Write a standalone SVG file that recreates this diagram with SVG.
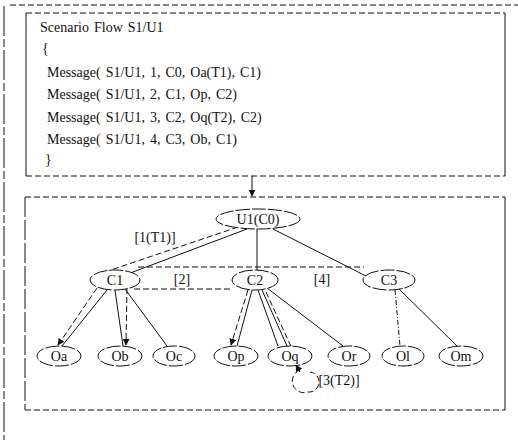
<svg xmlns="http://www.w3.org/2000/svg" width="518" height="440" viewBox="0 0 518 440">
<style>
text{font-family:"Liberation Serif","DejaVu Serif",serif;font-size:14px;fill:#111}
.m{word-spacing:1.5px}
.c{text-anchor:middle}
.s{stroke:#111;stroke-width:1;fill:none}
.d{stroke:#111;stroke-width:1;fill:none;stroke-dasharray:6 3}
.dd{stroke:#111;stroke-width:1;fill:none;stroke-dasharray:5 2 1 2}
.e{stroke:#111;stroke-width:1;fill:#fff;stroke-dasharray:14 2}
</style>
<defs>
<marker id="ah" viewBox="0 0 10 10" refX="9" refY="5" markerWidth="7" markerHeight="7" orient="auto-start-reverse" markerUnits="userSpaceOnUse">
<path d="M0,0 L10,5 L0,10 z" fill="#111"/>
</marker>
</defs>
<g id="frame">
<line x1="4" y1="6" x2="4" y2="440" class="s" stroke-dasharray="30 3 8 3"/>
<line x1="10" y1="5" x2="518" y2="5" class="d"/>
</g>
<g id="scenario">
<line x1="26" y1="13" x2="26" y2="176" class="s"/>
<line x1="505" y1="13" x2="505" y2="176" class="s"/>
<line x1="26" y1="13" x2="505" y2="13" class="d"/>
<line x1="26" y1="176" x2="505" y2="176" class="d"/>
<text x="40" y="32" class="m">Scenario Flow S1/U1</text>
<text x="42" y="53">{</text>
<text x="47" y="77" class="m">Message( S1/U1, 1, C0, Oa(T1), C1)</text>
<text x="47" y="99" class="m">Message( S1/U1, 2, C1, Op, C2)</text>
<text x="47" y="122" class="m">Message( S1/U1, 3, C2, Oq(T2), C2)</text>
<text x="47" y="144" class="m">Message( S1/U1, 4, C3, Ob, C1)</text>
<text x="45" y="164">}</text>
</g>
<g id="tree-box">
<line x1="25" y1="197" x2="25" y2="410" class="s" stroke-dasharray="20 3"/>
<line x1="505" y1="197" x2="505" y2="410" class="s"/>
<line x1="25" y1="197" x2="505" y2="197" class="d"/>
<line x1="25" y1="410" x2="505" y2="410" class="d"/>
</g>
<g id="connectors">
<line x1="252" y1="176" x2="252" y2="196" class="s" marker-end="url(#ah)"/>
<line x1="247" y1="229" x2="125" y2="275" class="s"/>
<line x1="238" y1="227" x2="99" y2="274" class="d"/>
<line x1="257" y1="229" x2="257" y2="270" class="s"/>
<line x1="273" y1="229" x2="366" y2="276" class="s"/>
<line x1="138" y1="267" x2="364" y2="267" class="d" stroke-dasharray="3 3"/>
<line x1="134" y1="289" x2="233" y2="289" class="d" stroke-dasharray="3 3"/>
<line x1="107" y1="290" x2="62" y2="346" class="s"/>
<line x1="97" y1="288" x2="58" y2="345" class="d" marker-end="url(#ah)"/>
<line x1="115" y1="290" x2="123" y2="346" class="s"/>
<line x1="127" y1="288" x2="126" y2="345" class="d" marker-end="url(#ah)"/>
<line x1="125" y1="289" x2="167" y2="346" class="s"/>
<line x1="248" y1="290" x2="231" y2="345" class="d" marker-end="url(#ah)"/>
<line x1="252" y1="290" x2="237" y2="346" class="s"/>
<line x1="258" y1="290" x2="278" y2="346" class="s"/>
<line x1="262" y1="290" x2="287" y2="346" class="s"/>
<line x1="266" y1="292" x2="300" y2="366" class="d"/>
<path d="M300,370 A10,10 0 1 0 308,392 A10,10 0 0 0 310,372" class="d" stroke-dasharray="4 4"/>
<line x1="300" y1="372" x2="296" y2="365" class="s" marker-end="url(#ah)"/>
<line x1="267" y1="288" x2="343" y2="346" class="s"/>
<line x1="395" y1="290" x2="400" y2="346" class="dd"/>
<line x1="398" y1="288" x2="457" y2="346" class="s"/>
</g>
<g id="labels">
<text x="155" y="242" class="c">[1(T1)]</text>
<text x="182" y="284" class="c">[2]</text>
<text x="322" y="284" class="c">[4]</text>
<text x="339" y="385" class="c">[3(T2)]</text>
</g>
<g id="U1"><ellipse cx="258" cy="219" rx="42" ry="10" class="e"/><text x="258" y="224" class="c">U1(C0)</text></g>
<g id="C1"><ellipse cx="115" cy="280" rx="25" ry="10" class="e"/><text x="115" y="285" class="c">C1</text></g>
<g id="C2"><ellipse cx="255" cy="280" rx="23" ry="10" class="e"/><text x="255" y="285" class="c">C2</text></g>
<g id="C3"><ellipse cx="389" cy="280" rx="26" ry="10" class="e"/><text x="389" y="285" class="c">C3</text></g>
<g id="Oa"><ellipse cx="59" cy="356" rx="22" ry="10" class="e"/><text x="59" y="361" class="c">Oa</text></g>
<g id="Ob"><ellipse cx="120" cy="356" rx="22" ry="10" class="e"/><text x="120" y="361" class="c">Ob</text></g>
<g id="Oc"><ellipse cx="174" cy="356" rx="21" ry="10" class="e"/><text x="174" y="361" class="c">Oc</text></g>
<g id="Op"><ellipse cx="236" cy="356" rx="22" ry="10" class="e"/><text x="236" y="361" class="c">Op</text></g>
<g id="Oq"><ellipse cx="290" cy="356" rx="22" ry="10" class="e"/><text x="290" y="361" class="c">Oq</text></g>
<g id="Or"><ellipse cx="349" cy="356" rx="21" ry="10" class="e"/><text x="349" y="361" class="c">Or</text></g>
<g id="Ol"><ellipse cx="403" cy="356" rx="21" ry="10" class="e"/><text x="403" y="361" class="c">Ol</text></g>
<g id="Om"><ellipse cx="461" cy="356" rx="22" ry="10" class="e"/><text x="461" y="361" class="c">Om</text></g>
</svg>
